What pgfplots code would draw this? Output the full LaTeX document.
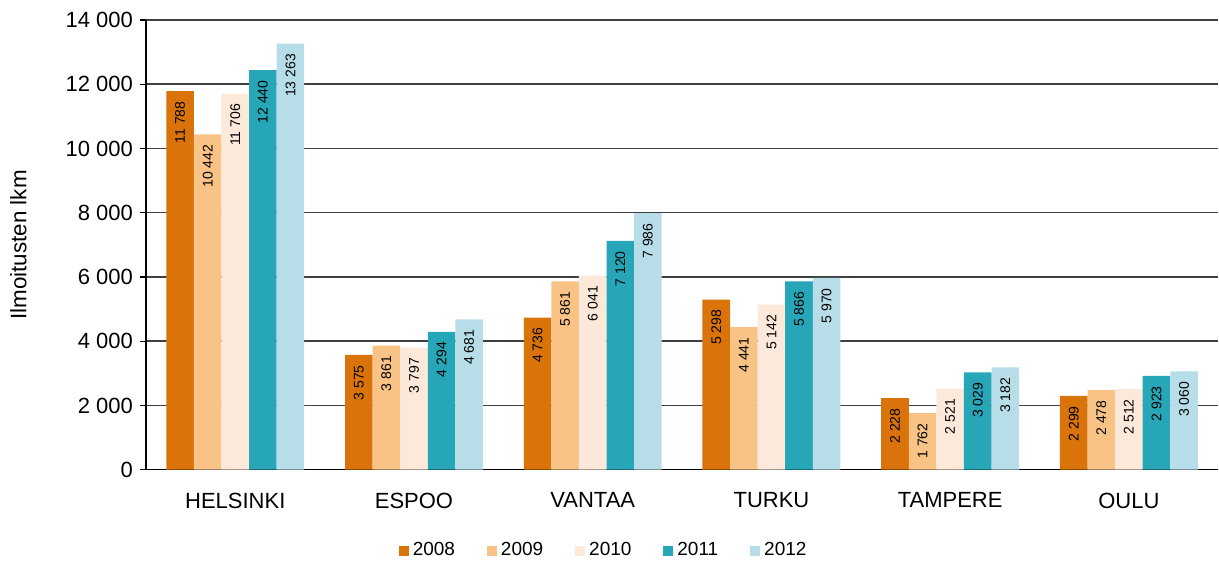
\documentclass[border=0pt]{standalone}
\usepackage{pgfplots}
\pgfplotsset{compat=1.18}
\usepackage{fontspec}
\setmainfont{Liberation Sans}
\usetikzlibrary{calc}
\definecolor{c08}{HTML}{D9730A}
\definecolor{c09}{HTML}{F9C386}
\definecolor{c10}{HTML}{FDE9DA}
\definecolor{c11}{HTML}{27A6B7}
\definecolor{c12}{HTML}{B7DEE8}
\definecolor{gridc}{HTML}{404040}
\begin{document}
\begin{tikzpicture}
\begin{axis}[
  name=ax,
  at={(0,0)}, anchor=south west,
  scale only axis,
  width=536.5pt, height=225pt,
  ybar=0pt, bar width=13.8pt,
  xmin=-0.5, xmax=5.5, ymin=0, ymax=14000,
  xtick={0,1,2,3,4,5},
  xticklabels={HELSINKI,ESPOO,VANTAA,TURKU,TAMPERE,OULU},
  xtick style={draw=none},
  xticklabel style={font=\fontsize{11pt}{13pt}\selectfont, yshift=-5pt},
  ytick={0,2000,...,14000},
  scaled y ticks=false,
  /pgf/number format/.cd, 1000 sep={\ }, assume math mode=true, /pgfplots/.cd,
  yticklabel style={font=\fontsize{11pt}{13pt}\selectfont},
  ytick style={draw=black, line width=0.6pt},
  tick align=outside, major tick length=3pt,
  axis x line*=bottom, axis y line*=left,
  axis line style={line width=0.75pt, draw=black},
  ymajorgrids, grid style={draw=gridc, line width=0.75pt},
  ylabel={Ilmoitusten lkm},
  ylabel style={at={(axis description cs:-0.119,0.5)}, anchor=center, font=\fontsize{11.2pt}{13pt}\selectfont},
  nodes near coords,
  nodes near coords style={rotate=90, anchor=east, font=\fontsize{7pt}{8pt}\selectfont, inner xsep=5pt, text=black},
  legend columns=5,
  legend style={draw=none, fill=none, at={($(0,0)+(229.5pt,-40.5pt)$)}, anchor=center, font=\fontsize{9.5pt}{11pt}\selectfont,
    /tikz/every even column/.append style={column sep=14pt}},
  legend image code/.code={\fill[#1] (0pt,-2.5pt) rectangle (5pt,2.5pt);},
  every axis plot/.append style={draw=none},
]
\addplot[fill=c08] coordinates {(0,11788) (1,3575) (2,4736) (3,5298) (4,2228) (5,2299)};
\addplot[fill=c09] coordinates {(0,10442) (1,3861) (2,5861) (3,4441) (4,1762) (5,2478)};
\addplot[fill=c10] coordinates {(0,11706) (1,3797) (2,6041) (3,5142) (4,2521) (5,2512)};
\addplot[fill=c11] coordinates {(0,12440) (1,4294) (2,7120) (3,5866) (4,3029) (5,2923)};
\addplot[fill=c12] coordinates {(0,13263) (1,4681) (2,7986) (3,5970) (4,3182) (5,3060)};
\legend{2008,2009,2010,2011,2012}
\end{axis}
\path[use as bounding box] ($(ax.south west)+(-73pt,-46.5pt)$) rectangle ($(ax.north east)+(0pt,10pt)$);
\end{tikzpicture}
\end{document}
